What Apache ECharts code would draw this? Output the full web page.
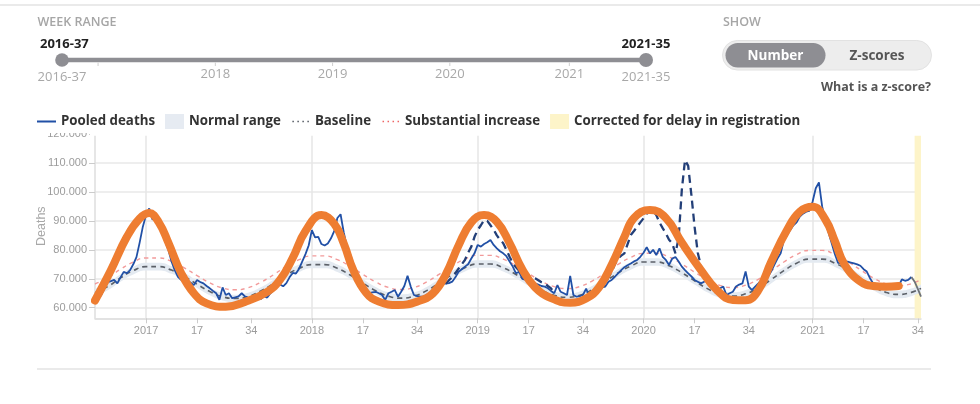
<!DOCTYPE html>
<html><head><meta charset="utf-8">
<script src="https://cdn.jsdelivr.net/npm/echarts@6/dist/echarts.min.js"></script>
<style>html,body{margin:0;padding:0;background:#fff}#c{width:980px;height:404px}</style>
</head><body><div id="c"></div>
<script>
// ---------- categories (ISO weeks 2016-37 .. 2021-35) ----------
const weeksInYear = {2016:52, 2017:52, 2018:52, 2019:52, 2020:53, 2021:52};
const firstWeek = [2016, 37];
const lastWeek = [2021, 35];
const weeks = [];
for (let y = firstWeek[0], w = firstWeek[1]; ; ) {
  weeks.push(y + '-' + String(w).padStart(2, '0'));
  if (y === lastWeek[0] && w === lastWeek[1]) break;
  w++; if (w > weeksInYear[y]) { y++; w = 1; }
}
const markedWeeks = ['01', '17', '34'];

// ---------- tick labels ----------
const sliderStart = '2016-37';
const sliderEnd = '2021-35';
const sliderYearTicks = ['2017-01', '2018-01', '2019-01', '2020-01', '2021-01'];
const sliderYearLabels = ['', '2018', '2019', '2020', '2021'];

// ---------- Pooled deaths (weekly) ----------
const pooledDeaths = [
  62000,63000,64500,66800,68800,69200,69600,68400,70500,72400,
  71900,73000,75000,77500,82500,88000,92000,94300,90500,90800,
  88500,86500,83000,80000,76000,73000,70700,69600,70000,69300,
  68600,67800,69600,68900,68400,67500,66700,65800,65000,62700,
  67000,64400,65000,63300,63600,63900,65000,63900,63500,63200,
  62700,63900,63000,64000,63500,65000,66000,67500,68000,67400,
  68500,70500,72000,71800,73500,76000,78500,81500,86800,84300,
  84500,82000,81500,82200,84000,86500,91000,92300,86000,81000,
  78500,75000,71500,68400,67000,66100,65000,65300,65500,65000,
  64400,62700,65000,65500,66100,63800,65500,67500,71000,67300,
  64400,64000,63800,63800,64500,65200,66100,67300,68000,68400,
  68300,68500,69000,70500,72400,73300,74200,75000,77000,78800,
  81700,81100,82000,82600,83400,81700,80500,79500,78800,77800,
  76000,74200,71900,72400,70000,69700,69600,69000,68400,68000,
  67500,67300,66700,65800,65000,67800,65500,65000,64400,71000,
  64400,63800,64000,64400,66600,63800,65500,66500,66000,67000,
  67300,69000,69600,70700,71900,73000,74000,74700,75300,76000,
  76500,77600,79000,80900,78800,80000,78200,80500,77600,76500,
  74800,77000,77500,76000,74200,73000,71900,70800,69600,69000,
  68400,69000,69600,68300,67300,66100,66700,67300,64400,65000,
  65500,67300,68000,68400,72500,67300,66100,67300,68400,69600,
  70000,70700,72500,74800,77000,78800,83400,85000,86900,88500,
  89500,91500,92500,93200,93500,96600,101300,103300,95000,90000,
  86000,82300,78500,75500,75300,75900,75900,75600,75300,75000,
  74500,73300,72500,70200,68400,68200,68000,67500,67900,67500,
  67300,67300,67500,69800,69300,69600,70600,null,null,null
];
// last weeks, corrected for delay in registration
const correctedStart = '2021-32';
const correctedDeaths = [70600, 69000, 66500, 63800];

// ---------- dashed pooled deaths line (two winters) ----------
const dashedAStart = '2018-43';
const dashedA = [68300,69500,70500,71900,73500,75000,76500,79000,81100,84500,
  86900,88500,90300,90000,88500,87000,85000,83500,82300,80000,
  77600,75500,74000,72800,71800,71000,70700,70700,70200,69500,
  68800,68400,67500,66700,65000];
const dashedBStart = '2019-39';
const dashedB = [66000,67000,68400,70500,72500,75000,77000,78000,78800,82000,
  85100,86500,88000,89500,90900,92500,94400,93500,92000,89500,
  87500,85700,83500,82250,78800,84000,100700,111000,109000,99000,
  88000,79000,74500,71000,69600,68300];

// ---------- baseline & bands (every 4th week + last week) ----------
const baseline = [65200,67300,70300,72800,74200,74200,73000,70800,68100,65600,
  63800,63200,63900,65800,68400,71300,73600,74900,74900,73600,
  71300,68500,65900,64000,63300,64000,65900,68600,71400,73800,
  75100,75100,73800,71500,68800,66100,64300,63600,64300,66300,
  69100,72000,74400,75800,75800,74500,72100,69300,66600,64700,
  64000,64800,66800,69700,72800,75400,76800,76800,75400,73000,
  70100,67300,65300,64600,65300,66700];
const substantialIncrease = [68200,70300,73300,75800,77200,77200,76000,73800,71100,68600,
  66800,66200,66900,68800,71400,74300,76600,77900,77900,76600,
  74300,71500,68900,67000,66300,67000,68900,71600,74400,76800,
  78100,78100,76800,74500,71800,69100,67300,66600,67300,69300,
  72100,75000,77400,78800,78800,77500,75100,72300,69600,67700,
  67000,67800,69800,72700,75800,78400,79800,79800,78400,76000,
  73100,70300,68300,67600,68300,69700];
const normalLow = [63900,66000,69000,71500,72900,72900,71700,69500,66800,64300,
  62500,61900,62600,64500,67100,70000,72300,73600,73600,72300,
  70000,67200,64600,62700,62000,62700,64600,67300,70100,72500,
  73800,73800,72500,70200,67500,64800,63000,62300,63000,65000,
  67800,70700,73100,74500,74500,73200,70800,68000,65300,63400,
  62700,63500,65500,68400,71500,74100,75500,75500,74100,71700,
  68800,66000,64000,63300,64000,65400];
const normalHigh = [66500,68600,71600,74100,75500,75500,74300,72100,69400,66900,
  65100,64500,65200,67100,69700,72600,74900,76200,76200,74900,
  72600,69800,67200,65300,64600,65300,67200,69900,72700,75100,
  76400,76400,75100,72800,70100,67400,65600,64900,65600,67600,
  70400,73300,75700,77100,77100,75800,73400,70600,67900,66000,
  65300,66100,68100,71000,74100,76700,78100,78100,76700,74300,
  71400,68600,66600,65900,66600,68000];

// ---------- orange hand-drawn overlay (week index, value) ----------
const orangeIdx = [0,5,10,14,17,20,23,27,31,35,41,47,54,58,62,66,71,75,78,81,85,89,95,101,106,110,114,118,122,126,130,134,138,143,149,154,158,162,166,169,174,179,184,190,195,200,204,208,212,217,221,225,229,232,235,240,244,248,252];
const orangeVals = [62500,73000,84500,90800,92700,89500,82500,72000,65000,61500,60300,62000,65500,69600,77200,86500,92000,89000,82200,73000,65200,62100,60900,62100,65000,71500,81500,89500,92000,89700,82300,73200,67000,63300,61700,63200,67000,74800,84500,91000,93800,91000,82500,73000,66100,62700,62600,66000,75800,86900,93200,94900,90500,83000,75000,69000,67500,67260,67500];

// ---------- helpers ----------
const N = weeks.length;
const sampledWeeks = weeks.filter((w, i) => i % 4 === 0 || i === N - 1);
const pairs = (labels, vals) => labels.map((w, k) => [w, vals[k]]);
function spread(startLabel, vals) {
  const out = new Array(N).fill(null);
  const s = weeks.indexOf(startLabel);
  vals.forEach((v, k) => { out[s + k] = v; });
  return out;
}
const isMarked = w => markedWeeks.includes(w.slice(5));
const fmtWeek = w => w.slice(5) === '01' ? w.slice(0, 4) : String(+w.slice(5));
const thousands = v => String(v).replace(/\B(?=(\d{3})+(?!\d))/g, '.');

// slider geometry (UI)
const SL = {x0: 62, x1: 646, y: 60};
const sliderX = label => SL.x0 + weeks.indexOf(label) / (N - 1) * (SL.x1 - SL.x0);

const F = '"Open Sans", Roboto, sans-serif';
const AX = '"Liberation Sans", Arial, sans-serif';
const lineIcon = 'path://M0,0H0.01V0.01H0Z M0,6.4H19V8.6H0Z M18.99,14.99H19V15H18.99Z';
const dotIcon = 'path://M0,0H0.01V0.01H0Z M1.5,6.8H3V8.3H1.5Z M6.5,6.8H8V8.3H6.5Z M11.5,6.8H13V8.3H11.5Z M16.5,6.8H18V8.3H16.5Z M18.99,14.99H19V15H18.99Z';

const graphic = [
  {type:'line', shape:{x1:0, y1:5, x2:980, y2:5}, style:{stroke:'#e3e3e3', lineWidth:1.5}},
  {type:'text', style:{text:'WEEK RANGE', x:37.5, y:22, fill:'#a6a6a6', font:'600 12.5px ' + F, verticalAlign:'middle'}},
  {type:'rect', shape:{x:SL.x0, y:SL.y - 2.3, width:SL.x1 - SL.x0, height:4.6, r:2}, style:{fill:'#8e8e93'}},
  ...sliderYearTicks.map(w => ({type:'line', shape:{x1:sliderX(w), y1:62.5, x2:sliderX(w), y2:66}, style:{stroke:'#cfcfcf', lineWidth:1}})),
  {type:'circle', shape:{cx:SL.x0, cy:SL.y, r:6.8}, style:{fill:'#8e8e93'}},
  {type:'circle', shape:{cx:SL.x1, cy:SL.y, r:7}, style:{fill:'#8e8e93'}},
  {type:'text', style:{text:sliderStart, x:40, y:44, fill:'#222', font:'bold 13px ' + F, verticalAlign:'middle'}},
  {type:'text', style:{text:sliderEnd, x:SL.x1, y:44, fill:'#222', font:'bold 13px ' + F, align:'center', verticalAlign:'middle'}},
  {type:'text', style:{text:sliderStart, x:SL.x0, y:77.5, fill:'#a8a8a8', font:'13px ' + F, align:'center', verticalAlign:'middle'}},
  {type:'text', style:{text:sliderEnd, x:SL.x1, y:77.5, fill:'#a8a8a8', font:'13px ' + F, align:'center', verticalAlign:'middle'}},
  ...sliderYearTicks.map((w, k) => ({type:'text', style:{text:sliderYearLabels[k], x:sliderX(w), y:74.5, fill:'#a8a8a8', font:'13px ' + F, align:'center', verticalAlign:'middle'}})),
  {type:'text', style:{text:'SHOW', x:723, y:22, fill:'#a6a6a6', font:'600 12.5px ' + F, verticalAlign:'middle'}},
  {type:'rect', shape:{x:722.5, y:40.5, width:209, height:29.5, r:14.75}, style:{fill:'#ededed', stroke:'#e2e2e2', lineWidth:1}},
  {type:'rect', shape:{x:725.5, y:43, width:100, height:24.5, r:12.25}, style:{fill:'#8e8e93'}},
  {type:'text', style:{text:'Number', x:775.5, y:56.5, fill:'#ffffff', font:'bold 13.5px ' + F, align:'center', verticalAlign:'middle'}},
  {type:'text', style:{text:'Z-scores', x:877, y:56.5, fill:'#555', font:'bold 13.5px ' + F, align:'center', verticalAlign:'middle'}},
  {type:'text', style:{text:'What is a z-score?', x:931, y:87.5, fill:'#555', font:'bold 12.5px ' + F, align:'right', verticalAlign:'middle'}},
  {type:'line', shape:{x1:37, y1:369, x2:931, y2:369}, style:{stroke:'#e3e3e3', lineWidth:1.5}},
  // top edge of the chart panel (cuts the 120.000 label like the reference)
  {type:'rect', z:3, shape:{x:20, y:127.5, width:920, height:5.5}, style:{fill:'#ffffff'}},
  {type:'rect', z:3, shape:{x:90, y:127.5, width:850, height:8.3}, style:{fill:'#ffffff'}}
];

const option = {
  animation: false,
  backgroundColor: '#fff',
  textStyle: {fontFamily: F},
  grid: {left: 95, right: 59, top: 134.1, bottom: 85.7, containLabel: false, outerBoundsMode: 'none'},
  legend: {
    left: 37, top: 114, padding: 0, itemGap: 10, itemWidth: 19, itemHeight: 15,
    selectedMode: false, symbolKeepAspect: true,
    textStyle: {color: '#333', fontWeight: 'bold', fontSize: 13.3, fontFamily: F},
    itemStyle: {borderWidth: 0},
    data: [
      {name: 'Pooled deaths', icon: lineIcon, itemStyle: {color: '#2150a6', borderWidth: 0}},
      {name: 'Normal range', icon: 'rect', itemStyle: {color: '#e6ebf2', borderWidth: 0}},
      {name: 'Baseline', icon: dotIcon, itemStyle: {color: '#555b63', borderWidth: 0}},
      {name: 'Substantial increase', icon: dotIcon, itemStyle: {color: '#ee6666', borderWidth: 0}},
      {name: 'Corrected for delay in registration', icon: 'rect', itemStyle: {color: '#fdf4c9', borderWidth: 0}}
    ]
  },
  xAxis: {
    type: 'category', data: weeks, boundaryGap: false,
    axisLine: {lineStyle: {color: '#dedede', width: 1.5}},
    axisTick: {interval: (i, v) => isMarked(v), length: 5, lineStyle: {color: '#cccccc'}},
    axisLabel: {interval: (i, v) => isMarked(v), formatter: fmtWeek, color: '#9c9c9c', fontSize: 11, margin: 7, fontFamily: AX},
    splitLine: {show: true, interval: (i, v) => v.endsWith('-01'), lineStyle: {color: '#e6e6e6', width: 1.5}}
  },
  yAxis: {
    type: 'value', min: 56340, max: 120000, minInterval: 10000, maxInterval: 10000,
    name: 'Deaths', nameLocation: 'middle', nameGap: 47, nameMoveOverlap: false,
    nameTextStyle: {color: '#a8a8a8', fontSize: 12.5, fontFamily: AX},
    axisLine: {show: true, lineStyle: {color: '#dedede', width: 1.5}},
    axisTick: {show: true, length: 6, lineStyle: {color: '#cccccc'}},
    axisLabel: {showMinLabel: false, formatter: thousands, color: '#9c9c9c', fontSize: 11, margin: 8, fontFamily: AX},
    splitLine: {lineStyle: {color: '#e8e8e8', width: 1.5}}
  },
  series: [
    {name: 'rangeLow', type: 'line', stack: 'range', smooth: 0.5, symbol: 'none', silent: true,
     data: pairs(sampledWeeks, normalLow), lineStyle: {opacity: 0},
     markArea: {silent: true, itemStyle: {color: '#fdf4c9'}, data: [[{xAxis: '2021-33'}, {xAxis: sliderEnd}]]}},
    {name: 'Normal range', type: 'line', stack: 'range', smooth: 0.5, symbol: 'none', silent: true,
     data: pairs(sampledWeeks, normalHigh.map((h, k) => h - normalLow[k])),
     lineStyle: {opacity: 0}, areaStyle: {color: '#e4eaf1', opacity: 1}, itemStyle: {color: '#e6ebf2'}},
    {name: 'Baseline', type: 'line', smooth: 0.5, symbol: 'none',
     data: pairs(sampledWeeks, baseline),
     lineStyle: {color: '#5b6068', width: 1.6, type: [5, 4]}, itemStyle: {color: '#555b63'}},
    {name: 'Substantial increase', type: 'line', smooth: 0.5, symbol: 'none',
     data: pairs(sampledWeeks, substantialIncrease),
     lineStyle: {color: '#f29a9a', width: 1.4, type: [4, 4]}, itemStyle: {color: '#ee6666'}},
    {name: 'Pooled deaths', type: 'line', symbol: 'none', data: pooledDeaths,
     lineStyle: {color: '#2150a6', width: 1.8}, itemStyle: {color: '#2150a6'}},
    {name: 'Pooled deaths (dashed)', type: 'line', symbol: 'none', data: spread(dashedAStart, dashedA),
     lineStyle: {color: '#233f78', width: 2.3, type: [8, 5]}},
    {name: 'Pooled deaths (dashed) ', type: 'line', symbol: 'none', data: spread(dashedBStart, dashedB),
     lineStyle: {color: '#233f78', width: 2.3, type: [8, 5]}},
    {name: 'Corrected for delay in registration', type: 'line', symbol: 'none', data: spread(correctedStart, correctedDeaths),
     lineStyle: {color: '#6e7378', width: 1.8}, itemStyle: {color: '#fdf4c9'}},
    {name: 'Overlay', type: 'line', smooth: 0.45, symbol: 'none', data: pairs(orangeIdx.map(i => weeks[i]), orangeVals),
     lineStyle: {color: '#ee7d31', width: 8, cap: 'round', join: 'round'}}
  ],
  graphic: graphic
};
const chart = echarts.init(document.getElementById('c'), null, {renderer: 'canvas', width: 980, height: 404});
chart.setOption(option);
</script>
</body></html>
